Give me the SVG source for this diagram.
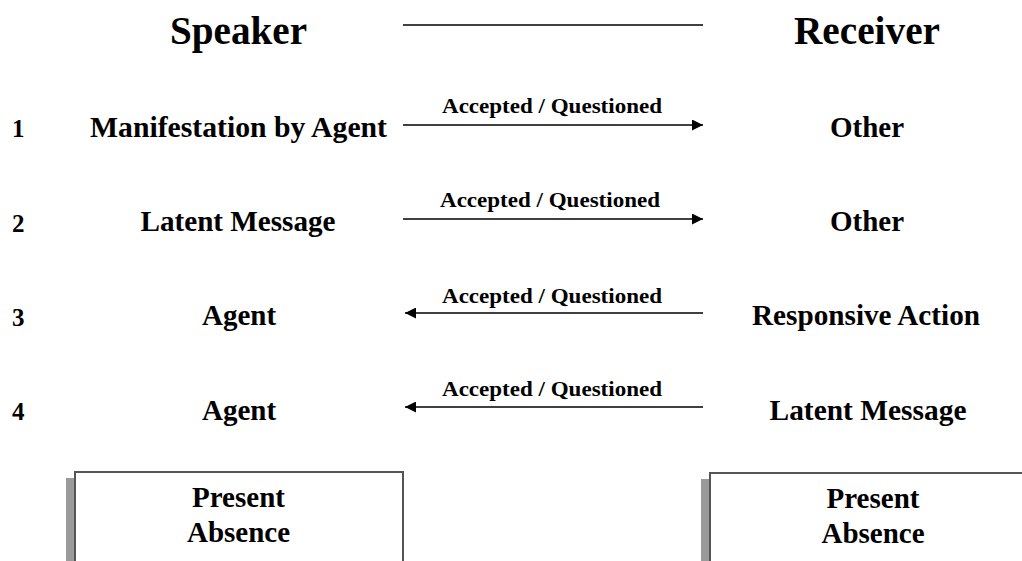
<svg xmlns="http://www.w3.org/2000/svg" width="1022" height="561" viewBox="0 0 1022 561">
<style>
text{font-family:"Liberation Serif","Times New Roman",serif;font-weight:bold;fill:#000;text-anchor:middle}
.title{font-size:39px}
.node{font-size:29px}
.num{font-size:25px;text-anchor:start}
.lbl{font-size:22px}
.conn{stroke:#000;stroke-width:1.5;fill:none}
.box{fill:#fff;stroke:#555;stroke-width:2}
.shadow{fill:#9a9a9a}
</style>
<defs>
<marker id="ah" viewBox="0 0 10 10" refX="10" refY="5" markerWidth="11" markerHeight="11" markerUnits="userSpaceOnUse" orient="auto-start-reverse">
<path d="M0,0 L10,5 L0,10 z" fill="#000"/>
</marker>
</defs>
<g id="titles">
<text class="title" x="238.5" y="44" textLength="137" lengthAdjust="spacingAndGlyphs">Speaker</text>
<text class="title" x="867" y="44" textLength="146" lengthAdjust="spacingAndGlyphs">Receiver</text>
</g>
<g id="numbers">
<text class="num" x="12" y="137">1</text>
<text class="num" x="12" y="232">2</text>
<text class="num" x="12" y="326">3</text>
<text class="num" x="12" y="420">4</text>
</g>
<g id="speaker1"><text class="node" x="238.5" y="137" textLength="297" lengthAdjust="spacingAndGlyphs">Manifestation by Agent</text></g>
<g id="receiver1"><text class="node" x="867" y="137">Other</text></g>
<g id="speaker2"><text class="node" x="238" y="231" textLength="195" lengthAdjust="spacingAndGlyphs">Latent Message</text></g>
<g id="receiver2"><text class="node" x="867" y="231">Other</text></g>
<g id="speaker3"><text class="node" x="239" y="325">Agent</text></g>
<g id="receiver3"><text class="node" x="866" y="325" textLength="228" lengthAdjust="spacingAndGlyphs">Responsive Action</text></g>
<g id="speaker4"><text class="node" x="239" y="420">Agent</text></g>
<g id="receiver4"><text class="node" x="868" y="420" textLength="197" lengthAdjust="spacingAndGlyphs">Latent Message</text></g>
<g id="speakerBox">
<rect class="shadow" x="66" y="478" width="9" height="90"/>
<rect class="box" x="75" y="472" width="328" height="100"/>
<text class="node" x="238.5" y="507">Present</text>
<text class="node" x="238.5" y="542">Absence</text>
</g>
<g id="receiverBox">
<rect class="shadow" x="701" y="479" width="9" height="90"/>
<rect class="box" x="710" y="473" width="328" height="100"/>
<text class="node" x="873" y="508">Present</text>
<text class="node" x="873" y="543">Absence</text>
</g>
<g id="connectors">
<line class="conn" x1="403" y1="25" x2="703" y2="25"/>
<line class="conn" x1="403" y1="125" x2="703" y2="125" marker-end="url(#ah)"/>
<text class="lbl" x="552" y="113" textLength="220" lengthAdjust="spacingAndGlyphs">Accepted / Questioned</text>
<line class="conn" x1="403" y1="219" x2="703" y2="219" marker-end="url(#ah)"/>
<text class="lbl" x="550" y="207" textLength="220" lengthAdjust="spacingAndGlyphs">Accepted / Questioned</text>
<line class="conn" x1="703" y1="313" x2="405" y2="313" marker-end="url(#ah)"/>
<text class="lbl" x="552" y="303" textLength="220" lengthAdjust="spacingAndGlyphs">Accepted / Questioned</text>
<line class="conn" x1="703" y1="407" x2="405" y2="407" marker-end="url(#ah)"/>
<text class="lbl" x="552" y="396" textLength="220" lengthAdjust="spacingAndGlyphs">Accepted / Questioned</text>
</g>
</svg>
